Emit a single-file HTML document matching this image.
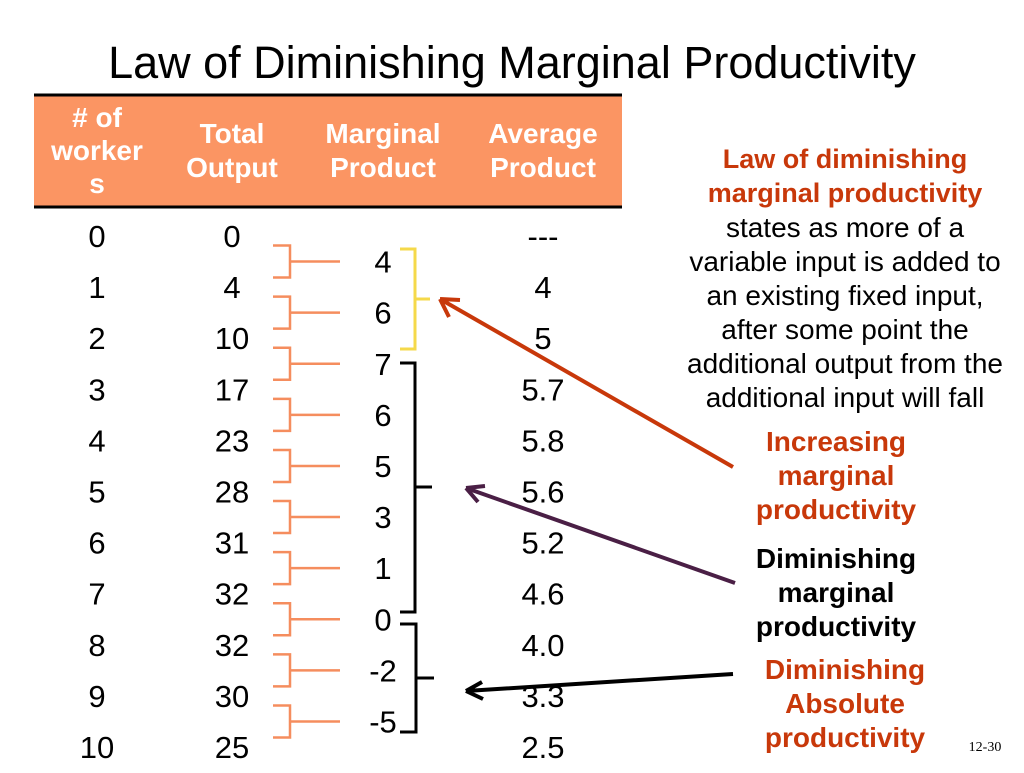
<!DOCTYPE html>
<html><head><meta charset="utf-8"><style>
body{margin:0;background:#fff;}
svg text{font-family:"Liberation Sans",Arial,sans-serif;}
</style></head><body>
<svg id="s" width="1024" height="768" xmlns="http://www.w3.org/2000/svg">
<text x="512" y="78" font-size="45" text-anchor="middle" fill="#000">Law of Diminishing Marginal Productivity</text>
<rect x="34" y="96" width="588" height="111" fill="#fb9563"/>
<line x1="34" y1="95" x2="622" y2="95" stroke="#000" stroke-width="3"/>
<line x1="34" y1="207" x2="622" y2="207" stroke="#000" stroke-width="3"/>
<g fill="#fff" font-size="28" font-weight="bold" text-anchor="middle">
<text x="97" y="127"><tspan x="97"># of</tspan><tspan x="97" dy="33">worker</tspan><tspan x="97" dy="33">s</tspan></text>
<text x="232" y="143"><tspan x="232">Total</tspan><tspan x="232" dy="34">Output</tspan></text>
<text x="383" y="143"><tspan x="383">Marginal</tspan><tspan x="383" dy="34">Product</tspan></text>
<text x="543" y="143"><tspan x="543">Average</tspan><tspan x="543" dy="34">Product</tspan></text>
</g>
<g id="rows"></g>
<g fill="none" stroke-width="3">
<path d="M400 249 H415 V349 H400 M415 299 H430" stroke="#f5d94a"/>
<path d="M400 363 H415 V612 H400 M415 487 H432" stroke="#000"/>
<path d="M400 624 H416 V732 H400 M416 678 H434" stroke="#000"/>
</g>
<g stroke-width="4" fill="none">
<path d="M733 467 L440 299 M440 299 l20 1 M440 299 l9 18" stroke="#c8380a"/>
<path d="M735 583 L466 488 M466 488 l19 -2 M466 488 l12 14" stroke="#4a1f45"/>
<path d="M733 674 L466 691 M466 691 l16 -9 M466 691 l17 8" stroke="#000"/>
</g>
<g font-size="28" text-anchor="middle">
<text y="168" fill="#c8380a" font-weight="bold" font-size="27"><tspan x="845">Law of diminishing</tspan><tspan x="845" dy="34">marginal productivity</tspan></text>
<text y="237" fill="#000"><tspan x="845">states as more of a</tspan><tspan x="845" dy="34">variable input is added to</tspan><tspan x="845" dy="34">an existing fixed input,</tspan><tspan x="845" dy="34">after some point the</tspan><tspan x="845" dy="34">additional output from the</tspan><tspan x="845" dy="34">additional input will fall</tspan></text>
<text y="451" fill="#c8380a" font-weight="bold"><tspan x="836">Increasing</tspan><tspan x="836" dy="34">marginal</tspan><tspan x="836" dy="34">productivity</tspan></text>
<text y="568" fill="#000" font-weight="bold"><tspan x="836">Diminishing</tspan><tspan x="836" dy="34">marginal</tspan><tspan x="836" dy="34">productivity</tspan></text>
<text y="679" fill="#c8380a" font-weight="bold"><tspan x="845">Diminishing</tspan><tspan x="845" dy="34">Absolute</tspan><tspan x="845" dy="34">productivity</tspan></text>
</g>
<text x="985" y="751" font-size="14" text-anchor="middle" style="font-family:'Liberation Serif',serif">12-30</text>
</svg>
<script>
const workers=["0","1","2","3","4","5","6","7","8","9","10"];
const totalOutput=["0","4","10","17","23","28","31","32","32","30","25"];
const marginal=["4","6","7","6","5","3","1","0","-2","-5"];
const average=["---","4","5","5.7","5.8","5.6","5.2","4.6","4.0","3.3","2.5"];
const g=document.getElementById('rows');
const NS="http://www.w3.org/2000/svg";
const rowY=i=>236+i*51.1;
function txt(x,y,s,name){const t=document.createElementNS(NS,'text');t.setAttribute('x',x);t.setAttribute('y',y+11);t.setAttribute('font-size','31');t.setAttribute('text-anchor','middle');t.textContent=s;


g.appendChild(t);}
workers.forEach((w,i)=>{txt(97,rowY(i),w,'workers-cell');txt(232,rowY(i),totalOutput[i],'total-output-cell');txt(543,rowY(i),average[i],'average-product-cell');});
marginal.forEach((m,i)=>{const ym=(rowY(i)+rowY(i+1))/2,y1=ym-16,y2=ym+16;
txt(383,ym,m,'marginal-product-cell');
const p=document.createElementNS(NS,'path');p.setAttribute('d',`M273 ${y1} H290 V${y2} H273 M290 ${ym} H340`);p.setAttribute('stroke','#f58d5e');p.setAttribute('stroke-width','2.5');p.setAttribute('fill','none');


g.appendChild(p);});
</script>
</body></html>
